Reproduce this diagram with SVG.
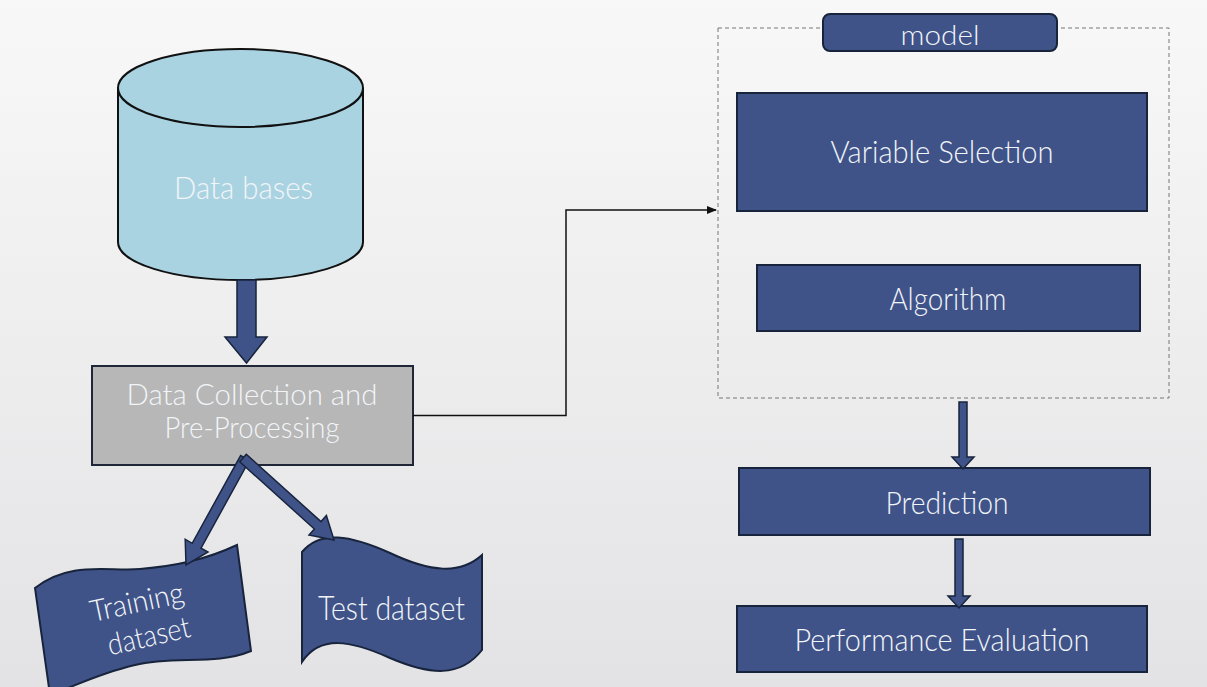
<svg xmlns="http://www.w3.org/2000/svg" width="1207" height="687" viewBox="0 0 1207 687">
<defs>
<linearGradient id="bg" x1="0" y1="0" x2="0" y2="1">
<stop offset="0" stop-color="#F8F8F8"/>
<stop offset="1" stop-color="#E3E3E5"/>
</linearGradient>
<marker id="arr" markerWidth="10" markerHeight="8" refX="9" refY="4" orient="auto" markerUnits="userSpaceOnUse">
<path d="M0,0 L10,4 L0,8 Z" fill="#111"/>
</marker>
<style>
.blue{fill:#3F5388;stroke:#18243C;stroke-width:2}
.gray{fill:#B7B7B7;stroke:#1E2638;stroke-width:2}
.cyl{fill:#AAD3E2;stroke:#111;stroke-width:2}
.t{font-family:"Lato","Liberation Sans",sans-serif;font-weight:300;fill:#F2F5F8;text-anchor:middle}
.conn{fill:none;stroke:#111;stroke-width:1.5}
.dash{fill:none;stroke:#777;stroke-width:1;stroke-dasharray:4 3}
.fat{fill:#3F5388;stroke:#18243C;stroke-width:1.5}
</style>
</defs>
<rect x="0" y="0" width="1207" height="687" fill="url(#bg)"/>

<g id="databases">
<path class="cyl" d="M118,88 L118,242 A122.5,38 0 0 0 363,242 L363,88"/>
<ellipse class="cyl" cx="240.5" cy="88" rx="122.5" ry="39"/>
<text class="t" x="243.5" y="199" font-size="32" textLength="139" lengthAdjust="spacingAndGlyphs">Data bases</text>
</g>

<g id="preprocessing">
<rect class="gray" x="92" y="366" width="321" height="99"/>
<text class="t" x="252" y="405" font-size="29" textLength="251" lengthAdjust="spacingAndGlyphs">Data Collection and</text>
<text class="t" x="252" y="438" font-size="29" textLength="175" lengthAdjust="spacingAndGlyphs">Pre-Processing</text>
</g>

<g id="training">
<path class="blue" d="M35,588 C70,560 110,572 140,569 C175,566 205,560 237,545 L251,651 C215,666 175,655 135,665 C100,673 75,686 50,695 Z"/>
<text class="t" font-size="30" transform="translate(139,612) rotate(-12)" textLength="95" lengthAdjust="spacingAndGlyphs">Training</text>
<text class="t" font-size="30" transform="translate(151,646) rotate(-13)" textLength="84" lengthAdjust="spacingAndGlyphs">dataset</text>
</g>

<g id="test">
<path class="blue" d="M302,552 C320,530 350,535 390,553 C430,572 460,575 482,555 L482,650 C460,678 430,675 390,658 C350,640 320,635 302,662 Z"/>
<text class="t" x="391.5" y="620" font-size="33" textLength="147" lengthAdjust="spacingAndGlyphs">Test dataset</text>
</g>

<g id="model">
<rect class="dash" x="718" y="28" width="451" height="370"/>
<rect class="blue" x="823" y="14" width="234" height="37" rx="7"/>
<text class="t" x="940" y="45" font-size="28" textLength="79" lengthAdjust="spacingAndGlyphs">model</text>
</g>

<g id="variable-selection">
<rect class="blue" x="737" y="93" width="410" height="118"/>
<text class="t" x="942" y="163" font-size="32" textLength="223" lengthAdjust="spacingAndGlyphs">Variable Selection</text>
</g>

<g id="algorithm">
<rect class="blue" x="757" y="265" width="383" height="66"/>
<text class="t" x="948" y="310" font-size="32" textLength="117" lengthAdjust="spacingAndGlyphs">Algorithm</text>
</g>

<g id="prediction">
<rect class="blue" x="739" y="468" width="411" height="67"/>
<text class="t" x="947" y="514" font-size="32" textLength="123" lengthAdjust="spacingAndGlyphs">Prediction</text>
</g>

<g id="performance">
<rect class="blue" x="737" y="606" width="410" height="66"/>
<text class="t" x="942" y="651" font-size="32" textLength="295" lengthAdjust="spacingAndGlyphs">Performance Evaluation</text>
</g>

<g id="connectors">
<polygon class="fat" points="237,280 256,280 256,337 267,337 246.5,363 225,337 237,337"/>
<polygon class="fat" points="240.6,455.6 192.2,543.3 185.2,539.4 186,565 208,552 201,548.1 249.4,460.4"/>
<polygon class="fat" points="239.7,461.7 314.4,529 309,535 334,540 326.4,515.6 321,521.6 246.3,454.3"/>
<polyline class="conn" points="413,415.5 566,415.5 566,210 716,210" marker-end="url(#arr)"/>
<polygon class="fat" points="959,402 967,402 967,457 974,457 963,469 952,457 959,457"/>
<polygon class="fat" points="955,539 963,539 963,596 970,596 959,608 948,596 955,596"/>
</g>
</svg>
